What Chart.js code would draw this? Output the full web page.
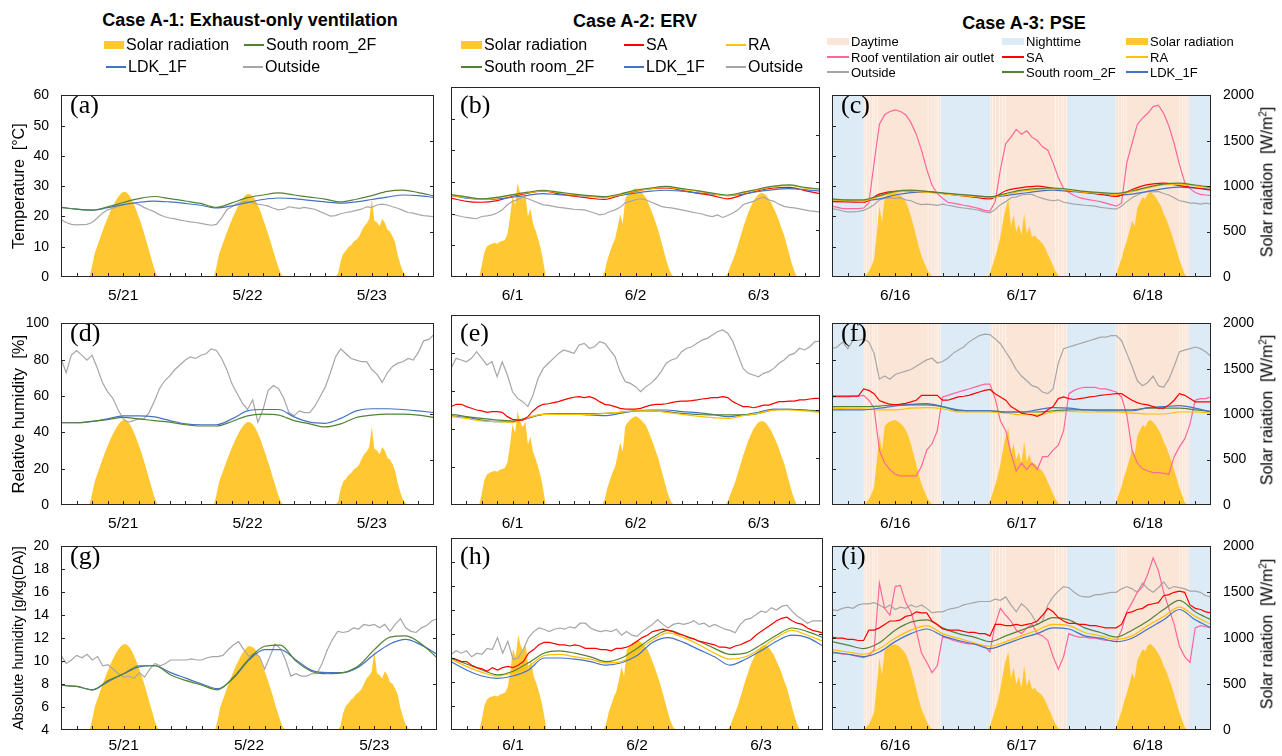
<!DOCTYPE html>
<html>
<head>
<meta charset="utf-8">
<script src="https://cdn.jsdelivr.net/npm/chart.js@4.4.0/dist/chart.umd.min.js"></script>
<style>
  body { margin: 0; background: #fff; font-family: Arial, "Liberation Sans", sans-serif; color: #000; }
  #wrap { position: relative; width: 1282px; height: 756px; overflow: hidden; }
  .cv { position: absolute; }
  .ttl { position: absolute; font-weight: bold; font-size: 18px; white-space: nowrap; transform: translate(-50%, -50%); }
  .lt { position: absolute; white-space: nowrap; line-height: 1; transform: translateY(-50%); }
  .sw { position: absolute; }
  .tag { position: absolute; font-family: "Liberation Serif", "Times New Roman", serif; font-size: 26px; line-height: 26px; }
  .rt { position: absolute; white-space: nowrap; font-size: 16px; transform: translate(-50%, -50%) rotate(-90deg); }
  .rt sup { font-size: 10px; }
</style>
</head>
<body>
<div id="wrap"></div>
<script>
// time grids (hours from 0:00 of the first day)
const hours = Array.from({length: 73}, (_, i) => i);
const hours3 = Array.from({length: 25}, (_, i) => i * 3);
const halfHours = Array.from({length: 145}, (_, i) => i / 2);
const hourTicks = hours3;
const tempTicks = [0, 10, 20, 30, 40, 50, 60];
const rhTicks = [0, 20, 40, 60, 80, 100];
const ahTicks = [4, 6, 8, 10, 12, 14, 16, 18, 20];
const solarTicks = [0, 500, 1000, 1500, 2000];

// ---------- Case A-1 ----------
const daysA1 = ['5/21', '5/22', '5/23'];
const solarA1 = [
  0,0,0,0,0,0,0,0,0,0,0,0,
  120,260,340,420,500,580,650,720,780,835,880,915,
  935,935,910,870,810,740,660,580,490,390,290,190,
  90,20,0,0,0,0,0,0,0,0,0,0,
  0,0,0,0,0,0,0,0,0,0,0,0,
  110,250,330,410,490,565,635,700,760,815,860,895,
  915,910,890,850,790,720,640,560,470,380,280,190,
  100,30,0,0,0,0,0,0,0,0,0,0,
  0,0,0,0,0,0,0,0,0,0,0,40,
  180,260,290,330,350,390,410,440,500,560,590,640,
  860,620,600,560,640,600,520,500,450,380,240,140,
  60,20,0,0,0,0,0,0,0,0,0,0,
  0];
const outA1_T = [19.0,18.0,17.4,17.2,17.3,17.4,18.0,19.5,21.1,22.2,
  22.7,23.2,23.8,24.1,24.5,24.0,23.0,22.2,21.6,20.6,
  19.9,19.5,19.2,18.8,18.5,18.2,18.0,17.7,17.4,17.1,
  17.4,19.5,22.2,23.2,24.3,24.8,25.0,24.5,24.1,23.8,
  23.4,22.7,22.2,22.4,23.2,22.9,22.7,23.0,22.7,22.4,
  21.6,20.9,20.1,20.3,20.9,21.3,21.6,22.0,22.4,23.2,
  23.0,23.8,24.1,23.8,23.2,22.7,22.0,21.3,21.1,20.6,
  20.3,20.1,19.9];
const southA1_T = [23.0,22.4,22.1,23.2,24.6,25.9,26.6,25.9,25.1,24.3,23.0,24.5,26.2,27.1,27.8,27.1,26.4,25.7,24.8,25.7,26.9,28.3,28.7,27.9,26.8];
const ldkA1_T = [23.0,22.4,22.1,22.9,23.9,24.7,25.1,24.8,24.3,23.7,22.8,23.5,24.6,25.6,26.1,25.9,25.3,24.8,24.4,24.8,25.6,26.4,27.1,26.9,26.3];
const outA1_RH = [80.7,72.8,82.5,85.1,82.5,79.8,82.5,75.4,67.5,62.3,
  58.8,52.6,47.4,45.6,46.5,47.4,47.4,50.9,57.0,64.0,
  68.4,71.1,74.6,77.2,79.8,81.6,80.7,82.5,83.3,86.0,
  85.1,80.7,74.6,66.7,61.4,56.1,52.6,57.9,45.6,52.6,
  63.2,65.8,64.0,58.8,50.9,49.1,51.8,50.9,50.9,54.4,
  59.6,64.9,72.8,81.6,86.0,83.3,80.7,79.8,78.9,78.9,
  74.6,71.9,67.5,72.8,76.3,78.1,78.9,80.7,79.8,84.2,
  90.4,91.2,93.9];
const southA1_RH = [45.3,45.3,46.0,47.0,48.2,47.4,46.5,45.6,44.2,43.5,43.5,46.0,49.1,50.0,49.5,46.5,44.7,43.0,44.7,48.2,49.5,50.0,50.0,49.5,48.2];
const ldkA1_RH = [45.3,45.3,46.0,47.4,49.1,49.1,48.5,46.5,44.7,44.2,44.2,47.4,51.8,52.6,52.6,48.5,45.6,45.0,47.7,51.8,53.0,53.0,52.6,51.8,50.9];
const outA1_AH = [10.5,9.8,10.1,10.5,10.3,10.6,10.1,10.4,9.6,9.7,
  9.3,8.9,8.6,8.7,8.5,9.0,8.6,9.3,9.8,9.6,
  9.8,10.1,10.1,10.1,10.1,10.2,10.1,10.1,10.3,10.4,
  10.4,10.5,11.0,11.4,11.7,11.0,10.4,10.7,10.4,9.3,
  10.4,11.5,11.1,10.1,8.7,8.9,8.7,8.7,8.9,8.9,
  9.8,11.0,11.9,12.6,12.5,12.6,12.9,12.8,13.2,13.1,
  13.2,12.9,13.2,12.6,13.2,13.7,12.9,12.6,12.5,12.9,
  13.1,13.5,13.7];
const southA1_AH = [7.9,7.8,7.5,8.3,8.9,9.6,9.6,8.8,8.3,7.9,7.5,8.6,10.2,11.3,11.4,10.0,9.1,8.9,9.0,9.6,11.0,12.1,12.2,11.5,10.3];
const ldkA1_AH = [7.9,7.8,7.5,8.2,8.9,9.5,9.6,9.0,8.5,8.0,7.6,8.5,10.1,11.0,11.0,10.1,9.2,9.0,9.0,9.5,10.6,11.5,11.9,11.4,10.6];

// ---------- Case A-2 ----------
const daysA2 = ['6/1', '6/2', '6/3'];
const solarA2 = [
  0,0,0,0,0,0,0,0,0,0,0,0,
  120,260,320,340,350,360,350,370,380,390,450,620,
  850,760,990,880,820,880,640,720,560,490,400,300,
  160,0,0,0,0,0,0,0,0,0,0,0,
  0,0,0,0,0,0,0,0,0,0,0,0,
  60,180,260,340,400,520,660,560,830,870,900,920,
  935,925,900,870,840,780,710,640,560,480,380,280,
  180,90,30,0,0,0,0,0,0,0,0,0,
  0,0,0,0,0,0,0,0,0,0,0,0,
  40,110,180,250,340,430,520,600,680,740,800,840,
  870,885,880,860,820,780,720,660,590,510,440,340,
  240,140,60,0,0,0,0,0,0,0,0,0,
  0];
const outA2_T = [19.9,19.5,19.1,18.8,18.6,18.4,19.1,19.3,19.6,20.2,
  21.2,22.8,23.9,24.4,25.2,24.7,24.1,23.4,22.8,22.6,
  22.3,22.0,21.8,21.6,21.4,21.3,21.2,20.7,20.2,19.6,
  19.9,20.7,21.2,22.0,23.4,23.9,24.4,24.7,24.4,23.7,
  23.0,22.3,22.0,21.8,21.5,21.2,20.9,20.5,20.2,19.9,
  19.4,19.1,19.6,18.8,19.4,20.2,21.2,22.8,23.4,23.9,
  24.7,25.2,24.4,23.9,23.0,22.3,22.0,21.8,21.5,21.2,
  20.9,20.7,20.5];
const saA2_T = [24.9,23.9,23.6,24.1,25.5,26.5,27.1,26.3,25.5,24.9,24.5,25.8,27.1,27.9,28.1,27.4,26.5,25.7,24.7,26.0,27.3,28.1,28.3,27.3,26.3];
const raA2_T = [25.8,25.1,24.5,25.0,25.8,26.6,27.2,26.6,26.0,25.5,25.2,26.0,27.2,27.9,28.4,27.7,27.1,26.3,25.7,26.6,27.6,28.5,28.9,28.1,27.6];
const southA2_T = [26.0,25.3,24.7,25.2,26.0,26.8,27.4,26.8,26.2,25.7,25.4,26.2,27.4,28.1,28.6,27.9,27.3,26.5,25.9,26.8,27.8,28.7,29.1,28.3,27.8];
const ldkA2_T = [25.7,24.9,24.6,24.7,25.2,25.8,26.3,26.0,25.8,25.5,25.2,25.8,26.5,27.1,27.4,27.1,26.6,26.2,25.7,26.2,27.0,27.6,27.9,27.6,27.1];
const outA2_RH = [71.9,77.2,76.3,75.4,77.2,80.7,77.2,73.7,75.4,67.5,
  75.4,68.4,59.6,56.1,54.4,51.8,57.9,66.7,71.9,74.6,
  77.2,79.8,81.6,80.7,79.8,84.2,85.1,82.5,83.3,86.0,
  85.1,81.6,78.1,70.2,64.9,64.0,62.3,59.6,62.3,64.0,
  66.7,70.2,74.6,76.3,77.2,80.7,82.5,83.3,85.1,86.8,
  87.7,89.5,91.2,92.1,90.4,86.0,78.9,71.9,69.3,68.4,
  67.5,69.3,70.2,71.9,74.6,76.3,78.9,79.8,82.5,81.6,
  83.3,86.0,86.3];
const saA2_RH = [51.8,53.0,53.0,51.8,50.9,50.0,49.5,48.8,49.1,49.1,
  48.8,46.5,45.1,44.7,44.7,46.5,49.5,51.8,53.0,53.3,
  53.9,54.4,55.3,56.1,56.7,57.0,56.5,57.0,56.1,54.4,
  53.0,52.6,51.8,50.9,50.5,50.5,50.5,50.9,51.8,52.6,
  53.0,53.0,53.3,53.9,54.4,54.7,54.7,54.9,55.3,55.8,
  56.1,56.5,56.5,57.0,56.5,54.4,53.0,51.8,51.8,51.2,
  51.8,52.6,52.6,53.5,54.4,54.4,54.7,54.7,55.3,55.3,
  55.8,56.1,56.1];
const raA2_RH = [46.5,45.6,44.2,43.9,43.5,46.0,47.7,47.7,47.7,47.7,48.2,48.8,49.5,49.5,48.8,47.7,46.8,46.0,45.6,47.0,48.2,50.0,50.0,49.5,48.8];
const southA2_RH = [47.9,46.5,45.6,44.7,44.2,46.0,47.7,48.1,48.1,48.1,48.2,48.8,49.5,49.5,49.1,48.2,47.7,47.4,47.4,47.4,48.2,50.0,50.4,50.0,49.5];
const ldkA2_RH = [47.0,46.1,44.7,43.9,43.9,45.6,47.7,47.9,47.9,47.4,47.0,48.2,49.5,50.0,50.0,49.1,48.6,47.7,46.5,47.4,48.8,50.5,50.4,50.0,49.1];
const outA2_AH = [10.3,10.6,10.4,10.6,10.1,10.4,10.3,10.8,10.7,11.7,
  10.4,11.4,9.9,10.0,10.7,11.7,12.2,12.5,12.4,12.2,
  12.4,12.5,12.4,12.6,12.5,12.9,12.9,12.5,12.3,12.2,
  12.3,12.2,12.4,11.9,12.2,11.9,11.8,12.2,12.5,12.8,
  13.2,12.8,12.5,12.8,12.9,12.8,12.9,13.1,12.8,12.9,
  12.6,12.8,12.6,12.4,12.3,12.1,12.8,13.2,13.3,13.6,
  13.9,13.8,14.2,14.0,14.3,14.4,13.9,13.5,13.2,12.9,
  13.1,13.1,13.1];
const saA2_AH = [10.0,9.9,9.7,9.7,9.4,9.2,9.1,8.9,9.2,9.0,
  9.2,9.3,9.2,9.4,9.7,10.4,10.7,11.1,11.3,11.3,
  11.2,11.1,11.1,11.0,11.1,11.0,10.8,10.8,10.8,10.7,
  10.7,10.6,10.8,10.8,10.9,11.1,11.4,11.7,11.9,12.2,
  12.3,12.4,12.3,12.2,12.0,11.9,11.7,11.6,11.4,11.3,
  11.2,11.1,10.9,10.9,10.8,11.0,11.1,11.3,11.5,11.9,
  12.2,12.5,12.8,13.1,13.3,13.4,13.1,12.9,12.8,12.5,
  12.3,12.2,12.1];
const raA2_AH = [9.9,9.3,8.8,8.5,8.8,9.3,10.2,10.3,10.1,9.9,9.6,9.7,10.6,11.5,12.1,11.7,11.1,10.4,9.9,10.1,10.8,11.7,12.3,11.9,11.4];
const southA2_AH = [10.0,9.5,9.0,8.6,8.9,9.6,10.4,10.6,10.4,10.1,9.7,10.0,10.8,11.7,12.3,11.9,11.4,10.8,10.3,10.4,11.1,11.9,12.5,12.2,11.7];
const ldkA2_AH = [9.7,9.0,8.5,8.3,8.5,9.0,10.0,10.0,9.9,9.7,9.4,9.6,10.2,11.3,11.7,11.3,10.7,10.1,9.4,9.9,10.6,11.4,11.9,11.7,11.0];

// ---------- Case A-3 ----------
const daysA3 = ['6/16', '6/17', '6/18'];
const nightSpans = [[0,6.05],[20.65,30.05],[44.65,53.9],[67.85,72]];
const daySpans = [[6.15,6.5],[6.6,7.0],[7.1,7.7],[7.8,8.1],[8.2,8.6],[8.7,18.2],
  [18.3,18.9],[19.0,19.5],[19.6,19.9],[20.0,20.25],[20.35,20.6],
  [30.1,30.4],[30.5,31.0],[31.1,31.8],[31.9,32.3],[32.4,32.9],[33.0,42.4],
  [42.5,43.0],[43.1,43.6],[43.7,44.0],[44.1,44.55],
  [53.95,54.4],[54.5,54.9],[55.0,55.4],[55.5,55.8],[55.9,65.9],
  [66.0,66.5],[66.6,67.0],[67.1,67.4],[67.5,67.8]];
const solarA3 = [
  0,0,0,0,0,0,0,0,0,0,0,0,
  0,30,60,120,200,480,780,600,870,900,920,930,
  935,920,900,870,830,760,670,560,450,330,230,160,
  90,40,10,0,0,0,0,0,0,0,0,0,
  0,0,0,0,0,0,0,0,0,0,0,0,
  40,130,220,320,450,620,760,850,560,680,500,580,
  460,700,480,560,440,460,420,400,370,320,250,190,
  120,60,20,0,0,0,0,0,0,0,0,0,
  0,0,0,0,0,0,0,0,0,0,0,0,
  30,120,200,310,400,500,620,560,760,820,880,860,
  920,940,910,880,830,780,700,640,560,480,380,290,
  190,110,30,0,0,0,0,0,0,0,0,0,
  0];
const outA3_T = [22.6,22.3,21.8,21.5,21.5,21.7,22.0,22.8,23.9,25.5,
  26.0,26.2,26.0,26.2,25.5,25.2,24.4,23.9,24.1,23.9,
  23.7,24.1,23.7,23.4,23.0,22.8,22.6,22.3,22.0,21.5,
  21.2,22.3,23.9,24.9,26.2,26.5,27.1,27.3,27.3,26.5,
  26.0,25.5,25.2,25.5,24.7,24.4,24.1,23.9,23.7,23.6,
  23.4,23.0,22.8,22.6,22.4,23.4,24.9,26.2,27.1,27.9,
  28.3,28.1,28.3,27.6,27.1,26.2,25.2,24.9,24.4,24.4,
  24.1,24.4,24.1];
const roofA3_T = [23.4,23.0,22.6,22.6,22.6,22.6,22.8,24.4,37.7,50.4,
  53.6,54.7,55.2,54.7,53.6,51.0,47.2,41.9,35.6,30.3,
  27.6,26.0,24.7,24.4,24.1,23.7,23.4,23.0,22.6,22.0,
  21.8,24.9,35.6,44.1,46.2,48.8,47.2,48.3,46.2,45.1,
  43.0,41.9,37.7,32.9,29.2,27.9,26.9,26.2,25.8,25.5,
  25.2,24.9,24.4,23.9,23.4,24.4,37.7,44.1,50.4,52.5,
  54.1,56.3,56.8,54.1,49.9,44.1,37.2,31.3,29.2,27.9,
  27.3,27.1,26.9];
const saA3_T = [24.9,24.8,24.7,27.4,28.3,28.3,28.2,27.6,27.0,26.4,25.8,28.5,29.5,30.0,29.3,28.7,28.0,27.3,26.6,28.9,30.5,31.0,30.2,29.4,28.7];
const raA3_T = [25.5,25.2,25.2,26.6,28.0,28.4,28.0,27.5,27.0,26.6,26.2,27.3,28.4,28.9,29.1,28.7,28.0,27.6,27.3,28.2,29.4,30.4,30.7,30.1,29.4];
const southA3_T = [25.8,25.5,25.5,26.9,28.3,28.7,28.3,27.8,27.3,26.9,26.5,27.6,28.7,29.2,29.4,29.0,28.3,27.9,27.6,28.5,29.7,30.7,31.0,30.4,29.7];
const ldkA3_T = [25.5,25.3,25.2,25.8,27.1,27.9,28.1,27.6,27.1,26.8,26.5,26.9,27.6,28.3,28.7,28.3,27.9,27.4,27.1,27.4,28.3,29.2,29.7,29.4,29.0];
const outA3_RH = [86.1,87.0,89.7,86.1,90.6,90.6,91.5,89.7,83.5,69.3,
  71.0,69.3,71.9,72.8,73.7,74.6,76.4,78.2,79.9,80.8,
  78.2,79.0,80.8,83.5,85.3,87.0,89.7,91.5,93.3,94.1,
  93.8,91.5,88.8,84.4,79.9,74.6,71.0,68.4,65.7,64.8,
  62.2,61.3,63.9,78.2,86.1,87.0,87.9,88.8,89.7,90.6,
  91.5,92.4,92.4,93.3,93.3,90.6,83.5,76.4,68.4,65.7,
  67.5,71.0,65.7,64.8,69.3,76.4,84.4,85.3,86.1,87.0,
  86.1,84.4,81.7];
const roofA3_RH = [59.5,59.5,59.5,59.5,60.0,60.0,60.4,57.7,53.3,30.2,
  23.1,19.5,16.9,16.0,16.0,16.0,16.0,21.3,30.2,33.7,
  40.9,59.5,60.4,61.3,62.2,63.1,63.9,64.8,65.7,66.6,
  66.6,58.6,46.2,40.9,28.4,18.7,23.1,19.5,23.1,19.5,
  26.6,26.6,30.2,32.9,40.9,61.3,63.1,64.3,64.8,64.8,
  64.8,63.9,63.9,63.1,62.2,59.5,49.7,30.2,23.1,19.9,
  18.7,17.8,17.8,17.4,16.9,26.6,32.0,36.4,44.4,57.7,
  58.6,58.6,59.5];
const saA3_RH = [59.9,59.9,60.0,60.0,60.0,60.0,63.9,63.1,61.3,57.5,
  56.4,55.5,55.1,55.5,56.0,56.8,57.7,60.4,60.4,60.4,
  60.4,57.7,57.7,58.6,59.5,59.9,60.4,61.3,62.2,63.1,
  63.6,61.3,59.5,57.7,54.2,52.4,50.6,50.1,49.7,48.8,
  50.1,52.4,54.2,58.6,59.5,58.6,58.1,58.6,59.0,59.5,
  59.9,60.4,60.7,61.0,61.3,61.3,59.5,57.7,56.4,55.5,
  55.1,54.2,53.3,53.3,55.1,57.7,61.3,60.4,58.6,56.8,
  56.8,56.8,56.8];
const raA3_RH = [53.3,53.0,53.0,52.4,52.4,53.3,53.6,53.0,51.2,51.2,51.2,50.6,49.7,49.7,51.2,51.5,51.2,51.2,51.2,50.6,50.1,50.1,51.2,51.2,50.6];
const southA3_RH = [54.2,54.2,54.2,54.5,55.1,55.1,55.1,54.2,51.9,51.9,51.9,51.2,51.2,51.2,51.9,52.4,52.4,52.4,52.4,52.4,53.3,53.3,53.3,52.4,51.5];
const ldkA3_RH = [52.4,52.4,52.4,53.3,54.5,55.4,55.8,54.2,52.4,51.9,51.9,51.2,51.2,52.4,53.6,53.3,52.4,51.9,51.9,51.9,53.6,54.2,54.7,53.3,51.2];
const outA3_AH = [14.5,14.4,14.6,14.7,14.6,14.9,15.0,15.0,15.1,14.9,
  14.6,14.9,14.5,14.7,14.6,14.9,14.7,14.9,14.6,14.2,
  14.3,14.3,14.5,14.6,14.7,14.9,15.0,15.1,15.2,15.2,
  15.2,15.4,15.3,15.6,14.9,14.3,15.0,14.6,14.0,13.2,
  13.5,14.9,15.6,16.1,16.5,16.4,16.0,15.7,15.6,15.6,
  15.8,15.8,15.9,16.0,16.0,16.3,16.5,16.3,16.0,16.8,
  16.3,16.0,16.4,16.9,16.3,16.5,16.4,16.3,16.1,16.1,
  16.0,15.7,15.6];
const roofA3_AH = [10.7,10.7,10.6,10.6,10.5,10.4,10.3,10.5,11.0,16.8,
  14.6,14.0,16.5,16.6,15.1,14.3,12.7,10.7,9.9,9.0,
  9.6,12.1,12.0,11.8,11.7,11.6,11.5,11.5,11.4,11.3,
  10.8,13.2,14.6,14.0,13.5,12.7,12.4,12.9,13.2,12.4,
  12.2,11.8,10.4,9.3,10.4,12.4,12.2,12.1,12.1,12.0,
  12.0,11.9,11.8,11.8,11.7,12.7,14.3,15.1,16.0,16.5,
  17.6,19.0,17.9,16.0,14.6,13.2,11.3,10.4,9.9,12.9,
  13.1,13.0,12.9];
const saA3_AH = [12.1,12.0,12.0,11.9,11.9,11.8,11.8,12.7,12.7,12.9,
  13.2,13.5,13.5,13.6,13.9,14.0,14.3,14.2,14.2,13.5,
  13.2,12.8,12.7,12.7,12.7,12.6,12.5,12.5,12.4,12.4,
  12.2,13.2,13.2,13.1,13.1,13.2,13.1,13.2,13.3,13.5,
  14.0,14.6,14.3,13.8,13.5,13.3,13.3,13.2,13.2,13.1,
  13.1,13.0,12.9,12.9,12.9,13.2,14.2,14.3,14.5,14.6,
  14.9,15.0,15.1,15.7,15.8,16.0,16.1,16.0,14.9,14.6,
  14.5,14.3,14.2];
const raA3_AH = [11.0,10.8,10.6,11.1,12.0,12.7,13.1,12.4,12.0,11.6,11.3,11.7,12.2,12.7,13.2,13.1,12.5,12.2,11.9,12.2,13.1,13.9,14.7,13.9,13.2];
const southA3_AH = [11.7,11.4,11.1,11.6,12.7,13.4,13.6,12.9,12.4,12.1,11.7,12.2,12.7,13.2,13.8,13.6,12.9,12.5,12.1,12.7,13.5,14.5,15.3,14.3,13.6];
const ldkA3_AH = [10.8,10.6,10.4,10.8,11.7,12.4,12.8,12.2,11.8,11.5,11.1,11.5,12.0,12.4,12.9,12.8,12.2,12.0,11.7,12.0,12.8,13.6,14.5,13.6,12.9];

// ---------- styles / layout ----------
Chart.defaults.font.family = 'Arial, "Liberation Sans", sans-serif';
Chart.defaults.color = '#000';

const colors = {
  'Outside': '#A6A6A6',
  'South room_2F': '#548235',
  'LDK_1F': '#4472C4',
  'SA': '#FF0000',
  'RA': '#FFC000',
  'Roof ventilation air outlet': '#FF6699',
  solar: '#FFC832',
  day: '#FBE5D6',
  night: '#DDEBF7'
};

const rowsCfg = [
  {top: 87, h: 190, min: 0, max: 60, ticks: tempTicks, title: 'Temperature  [°C]', tsize: 16, pad: 9},
  {top: 315, h: 190, min: 0, max: 100, ticks: rhTicks, title: 'Relative humidity  [%]', tsize: 16.5, pad: 9},
  {top: 538, h: 192, min: 4, max: 20, ticks: ahTicks, title: 'Absolute humidity [g/kg(DA)]', tsize: 14.5, pad: 6}
];
const colsCfg = [
  {left: 61, w: 376, padL: 61, padR: 6},
  {left: 451, w: 372, padL: 10, padR: 6},
  {left: 832, w: 379, padL: 10, padR: 60}
];

const panels = [
  {tag: '(a)', col: 0, row: 0, days: daysA1, solar: solarA1,
   lines: [['South room_2F', southA1_T], ['LDK_1F', ldkA1_T], ['Outside', outA1_T]]},
  {tag: '(b)', col: 1, row: 0, days: daysA2, solar: solarA2,
   lines: [['South room_2F', southA2_T], ['RA', raA2_T], ['LDK_1F', ldkA2_T], ['SA', saA2_T], ['Outside', outA2_T]]},
  {tag: '(c)', col: 2, row: 0, days: daysA3, solar: solarA3, bands: true,
   lines: [['South room_2F', southA3_T], ['RA', raA3_T], ['SA', saA3_T], ['LDK_1F', ldkA3_T], ['Roof ventilation air outlet', roofA3_T], ['Outside', outA3_T]]},
  {tag: '(d)', col: 0, row: 1, days: daysA1, solar: solarA1,
   lines: [['South room_2F', southA1_RH], ['LDK_1F', ldkA1_RH], ['Outside', outA1_RH]]},
  {tag: '(e)', col: 1, row: 1, days: daysA2, solar: solarA2,
   lines: [['SA', saA2_RH], ['RA', raA2_RH], ['South room_2F', southA2_RH], ['LDK_1F', ldkA2_RH], ['Outside', outA2_RH]]},
  {tag: '(f)', col: 2, row: 1, days: daysA3, solar: solarA3, bands: true,
   lines: [['SA', saA3_RH], ['LDK_1F', ldkA3_RH], ['South room_2F', southA3_RH], ['RA', raA3_RH], ['Roof ventilation air outlet', roofA3_RH], ['Outside', outA3_RH]]},
  {tag: '(g)', col: 0, row: 2, days: daysA1, solar: solarA1,
   lines: [['South room_2F', southA1_AH], ['LDK_1F', ldkA1_AH], ['Outside', outA1_AH]]},
  {tag: '(h)', col: 1, row: 2, days: daysA2, solar: solarA2,
   lines: [['SA', saA2_AH], ['South room_2F', southA2_AH], ['RA', raA2_AH], ['LDK_1F', ldkA2_AH], ['Outside', outA2_AH]]},
  {tag: '(i)', col: 2, row: 2, days: daysA3, solar: solarA3, bands: true,
   lines: [['SA', saA3_AH], ['South room_2F', southA3_AH], ['RA', raA3_AH], ['LDK_1F', ldkA3_AH], ['Roof ventilation air outlet', roofA3_AH], ['Outside', outA3_AH]]}
];

const wrap = document.getElementById('wrap');

function pts(vals) {
  const t = vals.length === 145 ? halfHours : vals.length === 25 ? hours3 : hours;
  return vals.map((v, i) => ({x: t[i], y: v}));
}

function addDiv(cls, left, top, html) {
  const d = document.createElement('div');
  d.className = cls;
  d.style.left = left + 'px';
  d.style.top = top + 'px';
  d.innerHTML = html;
  wrap.appendChild(d);
  return d;
}

function build(p) {
  const c = colsCfg[p.col], r = rowsCfg[p.row];
  const T = 12, B = 26;
  const box = addDiv('cv', c.left - c.padL, r.top - T, '');
  const cv = document.createElement('canvas');
  cv.width = c.padL + c.w + c.padR;
  cv.height = T + r.h + B;
  box.appendChild(cv);

  const datasets = p.lines.map(([name, vals]) => ({
    label: name,
    data: pts(vals),
    yAxisID: 'y',
    borderColor: colors[name],
    borderWidth: 1.2,
    pointRadius: 0,
    fill: false,
    tension: 0,
    cubicInterpolationMode: vals.length === 25 ? 'monotone' : 'default'
  }));
  datasets.push({
    label: 'Solar radiation',
    data: pts(p.solar),
    yAxisID: 'y2',
    borderColor: 'rgba(0,0,0,0)',
    borderWidth: 0,
    pointRadius: 0,
    backgroundColor: colors.solar,
    fill: 'origin',
    tension: 0
  });

  const deco = {
    id: 'deco',
    beforeDatasetsDraw(chart) {
      if (!p.bands) return;
      const {ctx, chartArea: a, scales: {x}} = chart;
      ctx.save();
      [[nightSpans, colors.night], [daySpans, colors.day]].forEach(([spans, col]) => {
        ctx.fillStyle = col;
        spans.forEach(([s, e]) => {
          const x0 = x.getPixelForValue(s), x1 = x.getPixelForValue(e);
          ctx.fillRect(x0, a.top, x1 - x0, a.bottom - a.top);
        });
      });
      ctx.restore();
    },
    afterDraw(chart) {
      const {ctx, chartArea: a, scales: {x, y, y2}} = chart;
      ctx.save();
      ctx.strokeStyle = '#262626';
      ctx.lineWidth = 1;
      ctx.beginPath();
      x.ticks.forEach(t => {
        if (t.value <= 0 || t.value >= 72) return;
        const px = Math.round(x.getPixelForValue(t.value)) + 0.5;
        ctx.moveTo(px, a.bottom); ctx.lineTo(px, a.bottom - 4);
      });
      y.ticks.forEach(t => {
        if (t.value <= r.min || t.value >= r.max) return;
        const py = Math.round(y.getPixelForValue(t.value)) + 0.5;
        ctx.moveTo(a.left, py); ctx.lineTo(a.left + 4, py);
      });
      y2.ticks.forEach(t => {
        if (t.value <= 0 || t.value >= 2000) return;
        const py = Math.round(y2.getPixelForValue(t.value)) + 0.5;
        ctx.moveTo(a.right, py); ctx.lineTo(a.right - 4, py);
      });
      ctx.stroke();
      ctx.strokeRect(Math.round(a.left) + 0.5, Math.round(a.top) + 0.5,
                     Math.round(a.right - a.left) - 1, Math.round(a.bottom - a.top) - 1);
      ctx.restore();
    }
  };

  new Chart(cv, {
    type: 'line',
    data: {datasets},
    options: {
      responsive: false,
      animation: false,
      layout: {padding: {top: T, left: 0, right: 0, bottom: 0}},
      plugins: {legend: {display: false}, tooltip: {enabled: false}},
      scales: {
        x: {
          type: 'linear', min: 0, max: 72,
          grid: {display: false, drawTicks: false},
          border: {display: false},
          afterBuildTicks: s => { s.ticks = hourTicks.map(v => ({value: v})); },
          afterFit: s => { s.height = B; },
          ticks: {
            autoSkip: false, maxRotation: 0, padding: r.pad,
            font: {size: 15.5},
            callback: v => (v % 24 === 12 ? p.days[(v - 12) / 24] : '')
          }
        },
        y: {
          position: 'left', min: r.min, max: r.max,
          grid: {display: false, drawTicks: false},
          border: {display: false},
          afterBuildTicks: s => { s.ticks = r.ticks.map(v => ({value: v})); },
          afterFit: s => { s.width = c.padL; },
          ticks: {display: p.col === 0, padding: 12, font: {size: 14}, callback: v => String(v)},
          title: {display: p.col === 0, text: r.title, font: {size: r.tsize}, padding: {top: 10, bottom: 0}}
        },
        y2: {
          position: 'right', min: 0, max: 2000,
          grid: {display: false, drawTicks: false},
          border: {display: false},
          afterBuildTicks: s => { s.ticks = solarTicks.map(v => ({value: v})); },
          afterFit: s => { s.width = c.padR; },
          ticks: {display: p.col === 2, padding: 12, font: {size: 14}, callback: v => String(v)}
        }
      }
    },
    plugins: [deco]
  });

  addDiv('tag', c.left + 9, r.top + 5, p.tag);
  if (p.col === 2) {
    addDiv('rt', 1267, r.top + r.h / 2, 'Solar raiation&nbsp;&nbsp;[W/m<sup>2</sup>]');
  }
}

panels.forEach(build);

// column titles
addDiv('ttl', 250, 20, 'Case A-1: Exhaust-only ventilation');
addDiv('ttl', 635, 21, 'Case A-2: ERV');
addDiv('ttl', 1024, 23, 'Case A-3: PSE');

// legends: [x, y, kind, color, text, fontSize, swatchWidth]
const legendItems = [
  [104, 45, 'box', colors.solar, 'Solar radiation', 16, 20],
  [244, 45, 'line', colors['South room_2F'], 'South room_2F', 16, 20],
  [106, 67, 'line', colors['LDK_1F'], 'LDK_1F', 16, 20],
  [243, 67, 'line', colors['Outside'], 'Outside', 16, 20],

  [461, 45, 'box', colors.solar, 'Solar radiation', 16, 21],
  [624, 45, 'line', colors['SA'], 'SA', 16, 20],
  [726, 45, 'line', colors['RA'], 'RA', 16, 20],
  [461, 67, 'line', colors['South room_2F'], 'South room_2F', 16, 21],
  [624, 67, 'line', colors['LDK_1F'], 'LDK_1F', 16, 20],
  [726, 67, 'line', colors['Outside'], 'Outside', 16, 20],

  [827, 41, 'box', colors.day, 'Daytime', 13, 22],
  [1002, 41, 'box', colors.night, 'Nighttime', 13, 22],
  [1126, 41, 'box', colors.solar, 'Solar radiation', 13, 22],
  [827, 57, 'line', colors['Roof ventilation air outlet'], 'Roof ventilation air outlet', 13, 22],
  [1002, 57, 'line', colors['SA'], 'SA', 13, 22],
  [1126, 57, 'line', colors['RA'], 'RA', 13, 22],
  [827, 72, 'line', colors['Outside'], 'Outside', 13, 22],
  [1002, 72, 'line', colors['South room_2F'], 'South room_2F', 13, 22],
  [1126, 72, 'line', colors['LDK_1F'], 'LDK_1F', 13, 22]
];
legendItems.forEach(([x, y, kind, col, text, size, w]) => {
  const h = kind === 'box' ? (size > 14 ? 8 : 7) : 2;
  const sw = addDiv('sw', x, y - h / 2, '');
  sw.style.width = w + 'px';
  sw.style.height = h + 'px';
  sw.style.background = col;
  const t = addDiv('lt', x + w + 2, y, text);
  t.style.fontSize = size + 'px';
});
</script>
</body>
</html>
